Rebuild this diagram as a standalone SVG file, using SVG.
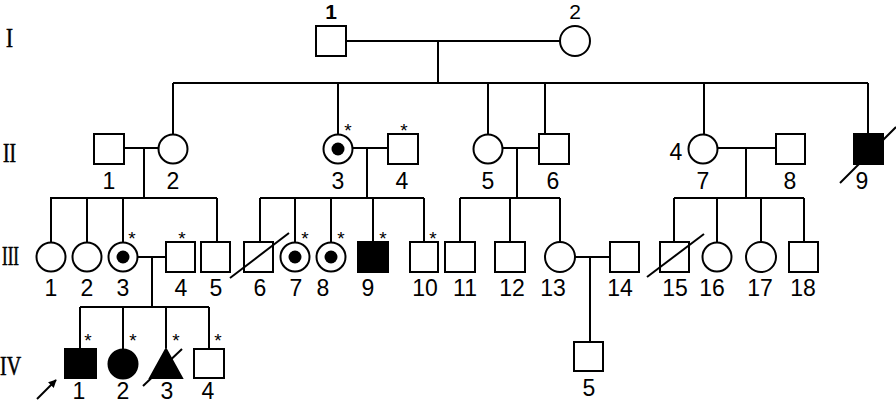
<svg xmlns="http://www.w3.org/2000/svg" width="896" height="405" viewBox="0 0 896 405">
<style>
.s{fill:#fff;stroke:#000;stroke-width:2}
.f{fill:#000;stroke:#000;stroke-width:2}
.l{stroke:#000;stroke-width:2;fill:none}
.t{font-family:"Liberation Sans",Arial,sans-serif;font-size:23px;fill:#000;text-anchor:middle}
.a{font-family:"Liberation Sans",Arial,sans-serif;font-size:19px;fill:#000;text-anchor:middle}
.r{font-family:"Liberation Serif","Times New Roman",serif;font-size:27px;fill:#000;stroke:#000;stroke-width:0.6}
</style>
<defs>
<marker id="ah" viewBox="0 0 10 10" refX="9" refY="5" markerWidth="8" markerHeight="8" orient="auto" markerUnits="userSpaceOnUse">
<path d="M0,0 L10,5 L0,10 Z" fill="#000"/>
</marker>
</defs>
<rect width="896" height="405" fill="#fff"/>
<g id="gen-labels">
<text class="r" x="6" y="47" textLength="7" lengthAdjust="spacingAndGlyphs">I</text>
<text class="r" x="3" y="162" textLength="13" lengthAdjust="spacingAndGlyphs">II</text>
<text class="r" x="2" y="265" textLength="17" lengthAdjust="spacingAndGlyphs">III</text>
<text class="r" x="0" y="375" textLength="21" lengthAdjust="spacingAndGlyphs">IV</text>
</g>
<g id="connectors">
<path class="l" d="M346,41 H560 M438,41 V83 M173,83 H868 M173,83 V134.5 M338,83 V134.5 M488,83 V134.5 M545,83 V134 M704,83 V134.5 M868,83 V134"/>
<path class="l" d="M124,148 H159 M144,148 V198 M50,198 H217 M51,198 V242.5 M87,198 V242.5 M123,198 V242.5 M217,198 V242"/>
<path class="l" d="M352,148 H388 M367,148 V198 M260,198 H424 M260,198 V242 M295,198 V242.5 M331,198 V242.5 M373,198 V242 M424,198 V242"/>
<path class="l" d="M503,148 H539 M517,148 V198 M460,198 H560 M460,198 V242 M510,198 V242 M560,198 V242.5"/>
<path class="l" d="M717,148 H776 M746,148 V198 M674,198 H804 M674,198 V242 M717,198 V242.5 M761,198 V242.5 M804,198 V242"/>
<path class="l" d="M138,257 H166 M152,257 V307 M80,307 H209 M80,307 V349 M123,307 V349.5 M166,307 V348 M209,307 V349"/>
<path class="l" d="M575,257 H610 M590,257 V342"/>
<line class="l" x1="37" y1="399" x2="56" y2="380" marker-end="url(#ah)"/>
</g>
<g id="I-1"><rect class="s" x="316" y="26" width="30" height="30"/><text class="t" x="331" y="19" style="font-weight:bold;font-size:21px">1</text></g>
<g id="I-2"><circle class="s" cx="575" cy="41" r="15"/><text class="t" x="575" y="19" style="font-size:21px">2</text></g>
<g id="II-1"><rect class="s" x="94" y="134" width="30" height="30"/><text class="t" x="109" y="189">1</text></g>
<g id="II-2"><circle class="s" cx="173" cy="149" r="14.5"/><text class="t" x="173" y="189">2</text></g>
<g id="II-3"><circle class="s" cx="338" cy="149" r="14.5"/><circle cx="338" cy="149" r="6.5" fill="#000"/><text class="a" x="348" y="137">*</text><text class="t" x="338" y="189">3</text></g>
<g id="II-4"><rect class="s" x="388" y="134" width="30" height="30"/><text class="a" x="404" y="137">*</text><text class="t" x="402" y="189">4</text></g>
<g id="II-5"><circle class="s" cx="488" cy="149" r="14.5"/><text class="t" x="488" y="189">5</text></g>
<g id="II-6"><rect class="s" x="539" y="134" width="30" height="30"/><text class="t" x="553" y="189">6</text></g>
<g id="II-7"><circle class="s" cx="703" cy="149" r="14.5"/><text class="t" x="676" y="160">4</text><text class="t" x="703" y="189">7</text></g>
<g id="II-8"><rect class="s" x="776" y="134" width="29" height="30"/><text class="t" x="790" y="189">8</text></g>
<g id="II-9"><rect class="f" x="854" y="134" width="29" height="30"/><line class="l" x1="840" y1="183" x2="896" y2="127"/><text class="t" x="862" y="189">9</text></g>
<g id="III-1"><circle class="s" cx="51" cy="257" r="14.5"/><text class="t" x="51" y="296">1</text></g>
<g id="III-2"><circle class="s" cx="87" cy="257" r="14.5"/><text class="t" x="87" y="296">2</text></g>
<g id="III-3"><circle class="s" cx="123" cy="257" r="14.5"/><circle cx="123" cy="257" r="6.5" fill="#000"/><text class="a" x="132" y="245">*</text><text class="t" x="123" y="296">3</text></g>
<g id="III-4"><rect class="s" x="166" y="242" width="29" height="30"/><text class="a" x="182" y="245">*</text><text class="t" x="181" y="296">4</text></g>
<g id="III-5"><rect class="s" x="201" y="242" width="29" height="30"/><text class="t" x="216" y="296">5</text></g>
<g id="III-6"><rect class="s" x="244" y="242" width="29" height="30"/><line class="l" x1="230" y1="278" x2="289" y2="233"/><text class="t" x="260" y="296">6</text></g>
<g id="III-7"><circle class="s" cx="295" cy="257" r="14.5"/><circle cx="295" cy="257" r="6.5" fill="#000"/><text class="a" x="305" y="245">*</text><text class="t" x="296" y="296">7</text></g>
<g id="III-8"><circle class="s" cx="331" cy="257" r="14.5"/><circle cx="331" cy="257" r="6.5" fill="#000"/><text class="a" x="341" y="245">*</text><text class="t" x="323" y="296">8</text></g>
<g id="III-9"><rect class="f" x="358" y="242" width="30" height="30"/><text class="a" x="383" y="245">*</text><text class="t" x="368" y="296">9</text></g>
<g id="III-10"><rect class="s" x="410" y="242" width="28" height="30"/><text class="a" x="433" y="245">*</text><text class="t" x="425" y="296">10</text></g>
<g id="III-11"><rect class="s" x="445" y="242" width="30" height="30"/><text class="t" x="465" y="296">11</text></g>
<g id="III-12"><rect class="s" x="495" y="242" width="30" height="30"/><text class="t" x="512" y="296">12</text></g>
<g id="III-13"><circle class="s" cx="560" cy="257" r="15"/><text class="t" x="553" y="296">13</text></g>
<g id="III-14"><rect class="s" x="610" y="242" width="29" height="30"/><text class="t" x="620" y="296">14</text></g>
<g id="III-15"><rect class="s" x="660" y="242" width="29" height="30"/><line class="l" x1="647" y1="277" x2="704" y2="234"/><text class="t" x="675" y="296">15</text></g>
<g id="III-16"><circle class="s" cx="717" cy="257" r="14.5"/><text class="t" x="712" y="296">16</text></g>
<g id="III-17"><circle class="s" cx="761" cy="257" r="15"/><text class="t" x="760" y="296">17</text></g>
<g id="III-18"><rect class="s" x="789" y="242" width="29" height="30"/><text class="t" x="803" y="296">18</text></g>
<g id="IV-1"><rect class="f" x="65" y="349" width="31" height="29"/><text class="a" x="88" y="347">*</text><text class="t" x="79" y="399">1</text></g>
<g id="IV-2"><circle class="f" cx="123" cy="364" r="14.5"/><text class="a" x="133" y="347">*</text><text class="t" x="123" y="399">2</text></g>
<g id="IV-3"><polygon class="f" points="166,349 150,378 182,378"/><line class="l" x1="143" y1="386" x2="182" y2="349"/><text class="a" x="176" y="347">*</text><text class="t" x="167" y="399">3</text></g>
<g id="IV-4"><rect class="s" x="194" y="349" width="30" height="29"/><text class="a" x="218" y="347">*</text><text class="t" x="208" y="399">4</text></g>
<g id="IV-5"><rect class="s" x="574" y="342" width="29" height="29"/><text class="t" x="589" y="396">5</text></g>
</svg>
